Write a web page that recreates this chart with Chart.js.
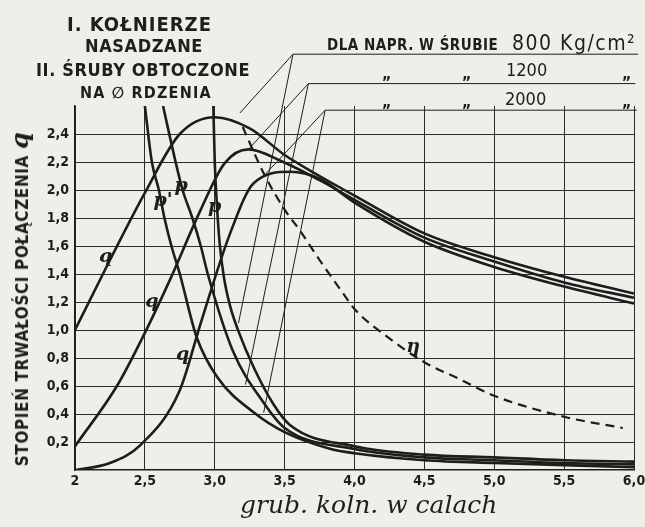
<!DOCTYPE html>
<html>
<head>
<meta charset="utf-8">
<script src="https://cdn.jsdelivr.net/npm/chart.js@4.4.1/dist/chart.umd.min.js"></script>
<style>
  html, body { margin: 0; padding: 0; background: #efeee9; }
  #wrap { position: relative; width: 645px; height: 527px; overflow: hidden; }
  #chart { position: absolute; left: 0; top: 0; }
  .t { position: absolute; white-space: nowrap; font-family: "DejaVu Sans Condensed", "DejaVu Sans", sans-serif; font-weight: bold; color: #1e1e1e; line-height: 1; }
  .hand { font-family: "DejaVu Serif", serif; font-style: italic; font-weight: normal; }
  #ytitle { left: 20px; top: 299px; transform: translate(-50%, -50%) rotate(-90deg); font-size: 17px; letter-spacing: 0.6px; }
  #ytitle span { font-family: "DejaVu Serif", serif; font-style: italic; font-size: 24px; }
</style>
</head>
<body>
<div id="wrap">
  <canvas id="chart" width="645" height="527"></canvas>
  <div class="t" style="left:67px; top:14px; font-size:20px; letter-spacing:1px;">I. KOŁNIERZE</div>
  <div class="t" style="left:85px; top:37px; font-size:18px; letter-spacing:0.6px;">NASADZANE</div>
  <div class="t" style="left:36px; top:61px; font-size:18px; letter-spacing:0.6px;">II. ŚRUBY OBTOCZONE</div>
  <div class="t" style="left:80px; top:85px; font-size:16px; letter-spacing:1.2px;">NA ∅ RDZENIA</div>

  <div class="t" style="left:327px; top:38px; font-size:15px; letter-spacing:0.5px;">DLA NAPR. W ŚRUBIE</div>
  <div class="t" style="left:512px; top:33px; font-size:21px; font-weight:normal; letter-spacing:1.5px;">800 Kg/cm²</div>
  <div class="t" style="left:382px; top:66px; font-size:16px;">„</div>
  <div class="t" style="left:462px; top:66px; font-size:16px;">„</div>
  <div class="t" style="left:506px; top:61px; font-size:18px;font-weight:normal;">1200</div>
  <div class="t" style="left:622px; top:66px; font-size:16px;">„</div>
  <div class="t" style="left:382px; top:94px; font-size:16px;">„</div>
  <div class="t" style="left:462px; top:94px; font-size:16px;">„</div>
  <div class="t" style="left:505px; top:90px; font-size:18px;font-weight:normal;">2000</div>
  <div class="t" style="left:622px; top:94px; font-size:16px;">„</div>

  <div class="t" id="ytitle">STOPIEŃ TRWAŁOŚCI POŁĄCZENIA <span>q</span></div>
  <div class="t hand" style="left:240px; top:492px; font-size:25px;">grub. koln. w calach</div>
</div>
<script>
// grubość kołnierza w calach (oś x) i stopień trwałości (oś y)
const xTicks = [2, 2.5, 3, 3.5, 4, 4.5, 5, 5.5, 6];
const yTicks = [0.2, 0.4, 0.6, 0.8, 1.0, 1.2, 1.4, 1.6, 1.8, 2.0, 2.2, 2.4];

// krzywe q (800, 1200, 2000 kg/cm2)
const q800 = [[2.0,1.0],[2.25,1.5],[2.5,1.98],[2.75,2.4],[3.0,2.52],[3.25,2.44],[3.5,2.25],[3.75,2.1],[4.0,1.96],[4.5,1.69],[5.0,1.52],[5.5,1.38],[6.0,1.26]];
const q1200 = [[2.0,0.17],[2.3,0.6],[2.5,0.98],[2.68,1.36],[2.9,1.86],[3.07,2.19],[3.24,2.29],[3.49,2.2],[3.75,2.07],[4.0,1.93],[4.5,1.66],[5.0,1.49],[5.5,1.34],[6.0,1.23]];
const q2000 = [[2.0,0.0],[2.25,0.05],[2.47,0.18],[2.75,0.57],[2.9,1.05],[3.11,1.69],[3.28,2.05],[3.54,2.13],[3.75,2.08],[4.0,1.91],[4.5,1.63],[5.0,1.45],[5.5,1.31],[6.0,1.19]];

// krzywe p
const p800 = [[2.5,2.6],[2.55,2.2],[2.6,2.0],[2.64,1.8],[2.69,1.6],[2.75,1.4],[2.87,0.95],[3.02,0.66],[3.28,0.41],[3.5,0.27],[3.83,0.15],[4.0,0.12],[4.5,0.07],[5.0,0.05],[5.5,0.035],[6.0,0.02]];
const p1200 = [[2.63,2.6],[2.72,2.2],[2.77,2.0],[2.84,1.8],[2.9,1.6],[2.95,1.4],[3.13,0.85],[3.35,0.48],[3.5,0.3],[4.0,0.15],[4.5,0.09],[5.0,0.07],[5.5,0.05],[6.0,0.04]];
const p2000 = [[2.99,2.6],[3.0,2.2],[3.015,1.9],[3.035,1.62],[3.065,1.38],[3.11,1.17],[3.17,0.99],[3.28,0.73],[3.42,0.47],[3.54,0.32],[4.0,0.17],[4.5,0.11],[5.0,0.09],[5.5,0.07],[6.0,0.06]];

// krzywa eta (przerywana)
const eta = [[3.2,2.45],[3.35,2.12],[3.5,1.86],[3.61,1.71],[3.75,1.5],[3.92,1.26],[4.0,1.15],[4.25,0.94],[4.5,0.77],[4.75,0.65],[5.0,0.53],[5.5,0.38],[5.92,0.30]];

// kreski pod opisami i linie odnośników
const underline800 = [[3.56,2.97],[6.03,2.97]];
const underline1200 = [[3.67,2.76],[6.01,2.76]];
const underline2000 = [[3.79,2.57],[6.02,2.57]];
const leaders = [
  [[3.56,2.97],[3.18,2.55]],
  [[3.56,2.97],[3.17,1.05]],
  [[3.67,2.76],[3.25,2.3]],
  [[3.67,2.76],[3.22,0.61]],
  [[3.79,2.57],[3.35,2.1]],
  [[3.79,2.57],[3.35,0.41]],
];

// opisy krzywych
const curveLabels = [
  ["q", 2.22, 1.52], ["q", 2.55, 1.2], ["q", 2.77, 0.82],
  ["p'", 2.63, 1.92], ["p", 2.76, 2.03], ["p", 3.0, 1.88], ["η", 4.42, 0.88],
];

const ink = "#1d1d1d";
const toPts = (arr) => arr.map(([x, y]) => ({ x, y }));
const fmt = (v) => v.toFixed(1).replace(".", ",");

const datasets = [];
[q800, q1200, q2000, p800, p1200, p2000].forEach((c) => {
  datasets.push({
    data: toPts(c),
    borderColor: ink,
    borderWidth: 2.6,
    cubicInterpolationMode: "monotone",
    pointRadius: 0,
  });
});
datasets.push({
  data: toPts(eta),
  borderColor: ink,
  borderWidth: 2.2,
  borderDash: [9, 6],
  cubicInterpolationMode: "monotone",
  pointRadius: 0,
});
[underline800, underline1200, underline2000, ...leaders].forEach((l) => {
  datasets.push({
    data: toPts(l),
    borderColor: ink,
    borderWidth: 1,
    tension: 0,
    pointRadius: 0,
    clip: false,
  });
});

const labelPlugin = {
  id: "curveLabels",
  afterDatasetsDraw(chart) {
    const { ctx, scales } = chart;
    ctx.save();
    ctx.fillStyle = ink;
    ctx.font = "bold italic 19px 'DejaVu Serif'";
    ctx.textAlign = "center";
    ctx.textBaseline = "middle";
    curveLabels.forEach(([txt, x, y]) => {
      ctx.fillText(txt, scales.x.getPixelForValue(x), scales.y.getPixelForValue(y));
    });
    ctx.restore();
  },
};

const tickFont = { family: "DejaVu Sans Condensed, DejaVu Sans", size: 14, weight: "bold" };

new Chart(document.getElementById("chart").getContext("2d"), {
  type: "line",
  data: { datasets },
  plugins: [labelPlugin],
  options: {
    responsive: false,
    animation: false,
    layout: { padding: { left: 0, right: 11, top: 106, bottom: 0 } },
    plugins: { legend: { display: false }, tooltip: { enabled: false } },
    scales: {
      x: {
        type: "linear",
        min: 2,
        max: 6,
        afterBuildTicks: (s) => { s.ticks = xTicks.map((v) => ({ value: v })); },
        afterFit: (s) => { s.height = 57; s.paddingLeft = 0; s.paddingRight = 0; },
        grid: { color: "#2b2b2b", lineWidth: 1, drawTicks: false },
        border: { color: ink, width: 1.5 },
        ticks: {
          color: ink,
          font: tickFont,
          padding: 3,
          maxRotation: 0,
          autoSkip: false,
          callback: (v) => (v === 2 ? "2" : fmt(v)),
        },
      },
      y: {
        min: 0,
        max: 2.6,
        afterBuildTicks: (s) => { s.ticks = yTicks.map((v) => ({ value: v })); },
        afterFit: (s) => { s.width = 75; s.paddingTop = 0; s.paddingBottom = 0; },
        grid: { color: "#2b2b2b", lineWidth: 1, drawTicks: false },
        border: { color: ink, width: 1.5 },
        ticks: {
          color: ink,
          font: tickFont,
          padding: 6,
          autoSkip: false,
          callback: (v) => fmt(v),
        },
      },
    },
  },
});
</script>
</body>
</html>
